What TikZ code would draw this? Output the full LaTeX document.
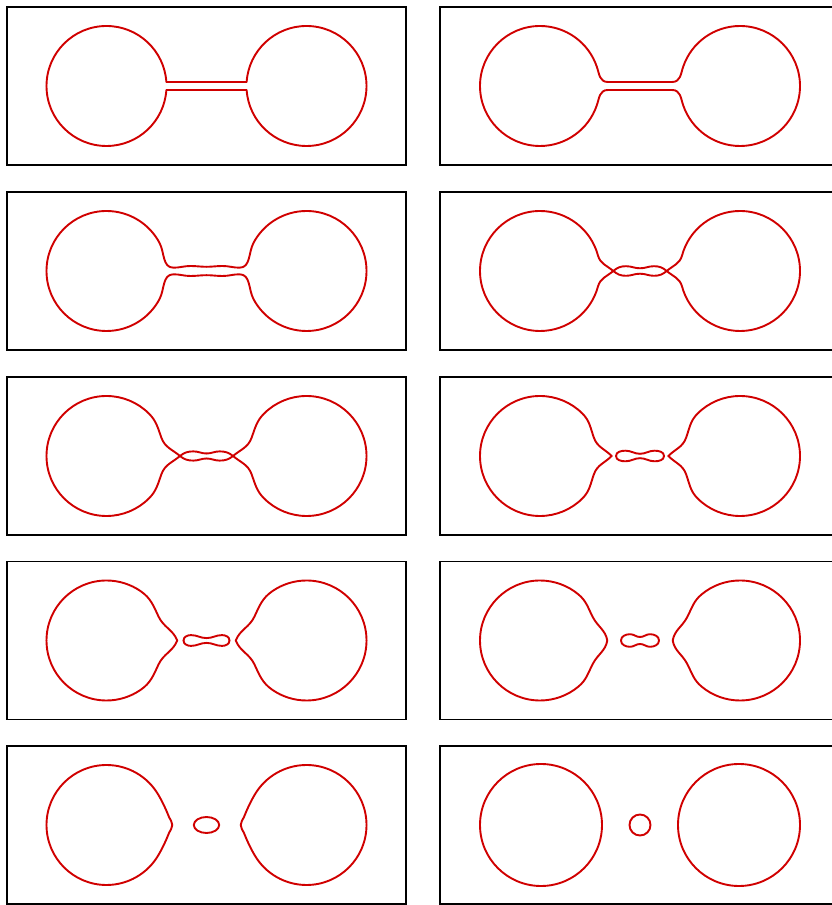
\documentclass[tikz,border=0pt]{standalone}
\usepackage{xcolor}
\usepackage{tikz}
\definecolor{curvered}{RGB}{208,0,0}

\newcommand{\fourfold}[1]{%
  \foreach \sx in {1,-1}{\foreach \sy in {1,-1}{%
    \draw[front, xscale=\sx, yscale=\sy] #1;}}}

\begin{document}
\begin{tikzpicture}[
  x=1pt, y=1pt,
  panel/.style={draw=black, line width=1.8pt},
  front/.style={draw=curvered, line width=1.9pt, line cap=round, line join=round}
]
\useasboundingbox (0,0) rectangle (832,905);
\clip (0,0) rectangle (832,905);

\begin{scope}[shift={(206.5,819)}]
  \draw[panel] (-199.5,-79) rectangle (199.5,79);
  \fourfold{(-160,0) arc[start angle=180, end angle=3.82, radius=60] -- (0,4)}
\end{scope}

\begin{scope}[shift={(640,819)}]
  \draw[panel] (-200,-79) rectangle (200,79);
  \fourfold{(-160,0) arc[start angle=180, end angle=18.7, radius=60]
    .. controls (-40.6,11.7) and (-40.5,4) .. (-32,4) -- (0,4)}
\end{scope}

\begin{scope}[shift={(206.5,634)}]
  \draw[panel] (-199.5,-79) rectangle (199.5,79);
  \fourfold{(-160,0) arc[start angle=180, end angle=28, radius=60]
    to[out=-62, in=180] (-33,3.3) to[out=0, in=180] (-16,5) to[out=0, in=180] (0,4.2)}
\end{scope}

\begin{scope}[shift={(640,634)}]
  \draw[panel] (-200,-79) rectangle (200,79);
  \fourfold{(-160,0) arc[start angle=180, end angle=15, radius=60]
    to[out=-75, in=140] (-26.7,0) to[out=-40, in=180] (-14,-4.8) to[out=0, in=180] (0,-2.7)}
\end{scope}

\begin{scope}[shift={(206.5,449)}]
  \draw[panel] (-199.5,-79) rectangle (199.5,79);
  \fourfold{(-160,0) arc[start angle=180, end angle=45, radius=60]
    to[out=-45, in=110] (-45,18) to[out=-70, in=140] (-26.5,0)
    to[out=-40, in=180] (-13,-4.6) to[out=0, in=180] (0,-2.5)}
\end{scope}

\begin{scope}[shift={(640,449)}]
  \draw[panel] (-200,-79) rectangle (200,79);
  \fourfold{(-160,0) arc[start angle=180, end angle=45, radius=60]
    to[out=-45, in=110] (-46,18) to[out=-70, in=135] (-28.3,0)}
  \fourfold{(0,2.2) to[out=180, in=0] (-14.5,5.3) to[out=180, in=90] (-24,0)}
\end{scope}

\begin{scope}[shift={(206.5,264.5)}]
  \draw[panel] (-199.5,-79) rectangle (199.5,79);
  \fourfold{(-160,0) arc[start angle=180, end angle=55, radius=60]
    to[out=-35, in=115] (-48,24) to[out=-65, in=112] (-29.2,0)}
  \fourfold{(0,2.4) to[out=180, in=0] (-15.5,5.4) to[out=180, in=90] (-23,0)}
\end{scope}

\begin{scope}[shift={(640,264.5)}]
  \draw[panel] (-200,-79) rectangle (200,79);
  \fourfold{(-160,0) arc[start angle=180, end angle=50, radius=60]
    to[out=-40, in=118] (-47,23) to[out=-62, in=100] (-32.7,0)}
  \fourfold{(0,3.5) to[out=180, in=0] (-10,6.3) to[out=180, in=90] (-19,0)}
\end{scope}

\begin{scope}[shift={(206.5,80)}]
  \draw[panel] (-199.5,-79) rectangle (199.5,79);
  \fourfold{(-160,0) arc[start angle=180, end angle=30, radius=60]
    to[out=-60, in=112] (-37.5,8) to[out=-68, in=90] (-34.2,0)}
  \draw[front] (0,0) ellipse[x radius=12.7, y radius=8];
\end{scope}

\begin{scope}[shift={(640,80)}]
  \draw[panel] (-200,-79) rectangle (200,79);
  \draw[front] (-99,0) circle[radius=61];
  \draw[front] (99,0) circle[radius=61];
  \draw[front] (0,0) circle[radius=10.5];
\end{scope}
\end{tikzpicture}
\end{document}
